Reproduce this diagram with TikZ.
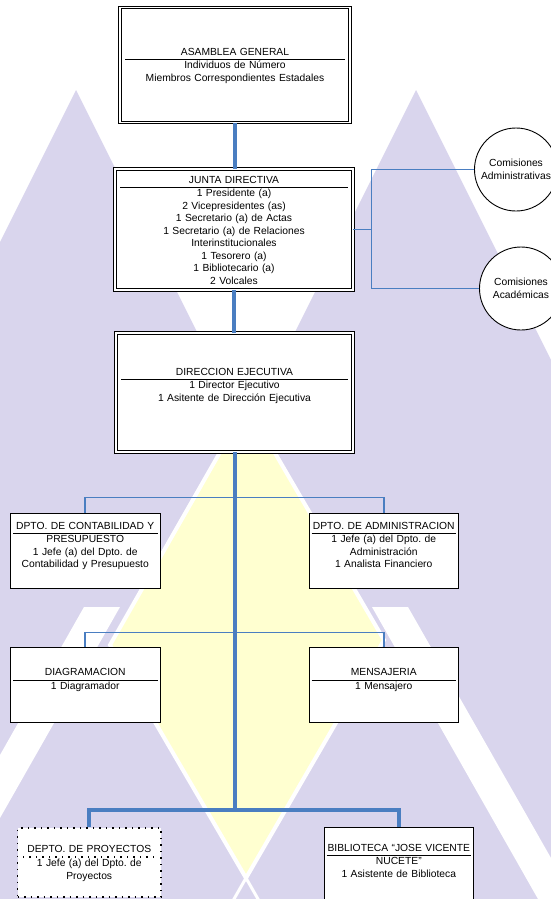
\documentclass[tikz,border=0pt]{standalone}
\usepackage{fontspec}
\setmainfont{Liberation Sans}
\usepackage{xcolor}
\usepackage{tikz}
\usetikzlibrary{positioning}

\definecolor{linkblue}{RGB}{74,126,193}
\definecolor{bglilac}{RGB}{217,213,237}
\definecolor{bgyellow}{RGB}{255,255,208}

\frenchspacing
\newcommand{\orgfont}{\fontsize{10.3}{12.5}\selectfont}
\newcommand{\boxtitle}[1]{\strut#1\par\hrule height .8pt\strut}
\newcommand{\dottitle}[1]{\strut#1\par\nointerlineskip
  \hbox to\hsize{\leaders\hbox to 6.5pt{\hss\vrule width 1.5pt height 1.5pt\hss}\hfill}%
  \nointerlineskip\strut}
\newcommand{\boxtail}[1]{\par\rule{0pt}{#1}}

\tikzset{
  orgbox/.style={draw=black, line width=0.9pt, fill=white, inner xsep=2.5pt, inner ysep=2pt, align=center, font=\orgfont},
  mainbox/.style={orgbox, double=white, double distance=1.7pt, inner xsep=5pt},
  dotbox/.style={orgbox, line width=1.5pt, dash pattern=on 1.5pt off 5pt},
  comision/.style={circle, draw=black, line width=0.9pt, fill=white, minimum size=83pt, inner sep=0pt, align=center, font=\orgfont},
  trunk/.style={draw=linkblue, line width=4pt},
  branch/.style={draw=linkblue, line width=1.6pt}
}

\begin{document}
\begin{tikzpicture}[x=1pt, y=-1pt]
\useasboundingbox (0,0) rectangle (551,899);
\clip (0,0) rectangle (551,899);

%Watermark
\fill[bglilac] (76,90) -- (0,242) -- (0,899) -- (551,899) -- (551,360) -- (416,90) -- (246,430) -- cycle;
\fill[white] (84,607) -- (120,607) -- (0,818) -- (0,755) -- cycle;
\fill[white] (372,607) -- (408,607) -- (551,858) -- (551,899) -- (538,899) -- cycle;
\filldraw[fill=bgyellow, draw=white, line width=4pt] (247,405) -- (110,645) -- (246,878) -- (384,640) -- cycle;
\draw[white, line width=3pt] (246,878) -- (262,906) (246,878) -- (230,906);

%Boxes
\node[mainbox, text width=220pt, minimum height=115pt] (asamblea) at (235,65)
  {\boxtitle{ASAMBLEA GENERAL}Individuos de Número\\Miembros Correspondientes Estadales};
\node[mainbox, text width=228pt, minimum height=121pt] (junta) at (234,229.5)
  {\boxtitle{JUNTA DIRECTIVA}1 Presidente (a)\\2 Vicepresidentes (as)\\1 Secretario (a) de Actas\\1 Secretario (a) de Relaciones\\Interinstitucionales\\1 Tesorero (a)\\1 Bibliotecario (a)\\2 Volcales};
\node[mainbox, text width=227pt, minimum height=119pt] (direccion) at (234.5,392.5)
  {\boxtitle{DIRECCION EJECUTIVA}1 Director Ejecutivo\\1 Asitente de Dirección Ejecutiva\boxtail{14pt}};

\node[orgbox, text width=144.5pt, minimum height=75pt] (contab) at (85.25,550.5)
  {\boxtitle{DPTO. DE CONTABILIDAD Y}PRESUPUESTO\\1 Jefe (a) del Dpto. de\\Contabilidad y Presupuesto\boxtail{10pt}};
\node[orgbox, text width=144.5pt, minimum height=75pt] (admin) at (383.75,550.5)
  {\boxtitle{DPTO. DE ADMINISTRACION}1 Jefe (a) del Dpto. de\\Administración\\1 Analista Financiero\boxtail{10pt}};
\node[orgbox, text width=144.5pt, minimum height=75pt] (diagram) at (85.25,684.5)
  {\boxtitle{DIAGRAMACION}1 Diagramador\boxtail{8pt}};
\node[orgbox, text width=144.5pt, minimum height=75pt] (mensaje) at (383.75,684.5)
  {\boxtitle{MENSAJERIA}1 Mensajero\boxtail{8pt}};

\node[dotbox, text width=138.5pt, minimum height=69pt] (proyectos) at (89.25,862.5)
  {\dottitle{DEPTO. DE PROYECTOS}1 Jefe (a) del Dpto. de\\Proyectos};
\node[orgbox, text width=144.6pt, minimum height=78pt] (biblioteca) at (398.8,866)
  {\boxtitle{BIBLIOTECA “JOSE VICENTE}NUCETE”\\1 Asistente de Biblioteca\boxtail{10pt}};

%Comisiones
\node[comision] (comadm) at (516,169.5) {Comisiones\\Administrativas};
\node[comision] (comacad) at (521,288.5) {Comisiones\\Académicas};

%Connectors
\draw[trunk] (asamblea.south) -- (asamblea.south |- junta.north);
\draw[trunk] (junta.south) -- (junta.south |- direccion.north);
\path (direccion.south |- proyectos.north) ++(0,-17) coordinate (hub);
\draw[trunk] (direccion.south) -- (hub);
\draw[trunk] (proyectos.north) |- (hub) -| (biblioteca.north);
\draw[branch] (contab.north) -- ++(0,-15) -| (admin.north);
\draw[branch] (diagram.north) -- ++(0,-14) -| (mensaje.north);
\draw[branch] (junta.east) -- ++(18,0) coordinate (fork);
\draw[branch] (comadm.west) -| (fork) |- (comacad.west);

\end{tikzpicture}
\end{document}
